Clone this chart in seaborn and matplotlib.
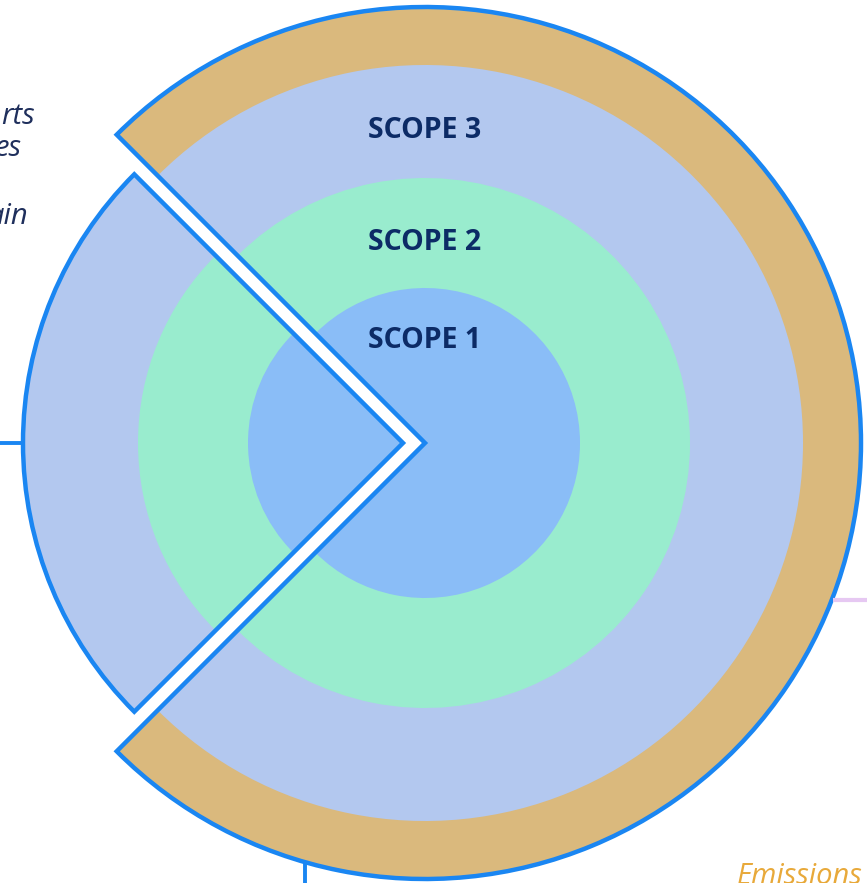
import seaborn as sns
import matplotlib.pyplot as plt
from matplotlib.patches import Wedge

# scope rings, inner to outer (radius in px of the 867x883 canvas)
scope_labels = ['SCOPE 1', 'SCOPE 2', 'SCOPE 3']
ring_radii = [155, 265, 378]
ring_colors = ['#8abdf7', '#99ecce', '#b3c8ef']
label_y = [341, 243, 130]

outer_radius = 436
outer_color = '#dab97d'
edge_color = '#1a86f2'

# main body centre and the pulled-out wedge centre
center = (425, 443)
piece_center = (403, 443)
cut_angle = 135  # wedge taken out between 135 and 225 degrees
piece_radius = 380

left_notes = ['rts', 'es', 'ain']
left_notes_y = [117, 149, 217]
left_notes_x = [35, 22, 28]

sns.set_style('white')
plt.rcParams['font.family'] = ['Open Sans', 'DejaVu Sans']

fig = plt.figure(figsize=(8.67, 8.83), dpi=100)
ax = fig.add_axes([0, 0, 1, 1])
ax.set_xlim(0, 867)
ax.set_ylim(883, 0)
ax.set_aspect('equal')
ax.axis('off')

# main body: tan ring then the scope rings
ax.add_patch(Wedge(center, outer_radius, -cut_angle, cut_angle, facecolor=outer_color, edgecolor='none'))
for r, c in zip(ring_radii[::-1], ring_colors[::-1]):
    ax.add_patch(Wedge(center, r, -cut_angle, cut_angle, facecolor=c, edgecolor='none'))
ax.add_patch(Wedge(center, outer_radius, -cut_angle, cut_angle, facecolor='none',
                   edgecolor=edge_color, linewidth=3.2, joinstyle='miter'))

# the pulled-out piece
ax.add_patch(Wedge(piece_center, piece_radius, cut_angle, 360 - cut_angle, facecolor=ring_colors[2], edgecolor='none'))
for r, c in zip(ring_radii[1::-1], ring_colors[1::-1]):
    ax.add_patch(Wedge(piece_center, r, cut_angle, 360 - cut_angle, facecolor=c, edgecolor='none'))
ax.add_patch(Wedge(piece_center, piece_radius, cut_angle, 360 - cut_angle, facecolor='none',
                   edgecolor=edge_color, linewidth=3.2, joinstyle='miter'))

# connector lines
ax.plot([0, 22], [443, 443], color=edge_color, lw=2.8, solid_capstyle='butt')
ax.plot([305, 305], [862, 883], color=edge_color, lw=2.8, solid_capstyle='butt')
ax.plot([833, 867], [600, 600], color='#e6c8f2', lw=3, solid_capstyle='butt')

for lab, y in zip(scope_labels, label_y):
    ax.text(center[0], y, lab, ha='center', va='center', fontsize=20.5,
            fontweight='bold', color='#0c2b66')

for t, x, y in zip(left_notes, left_notes_x, left_notes_y):
    ax.text(x, y, t, ha='right', va='center', fontsize=21, style='italic', color='#1f2f5c')

ax.text(737, 862, 'Emissions', ha='left', va='top', fontsize=21, style='italic', color='#e8a93a')

fig.savefig('out.png', dpi=100)
